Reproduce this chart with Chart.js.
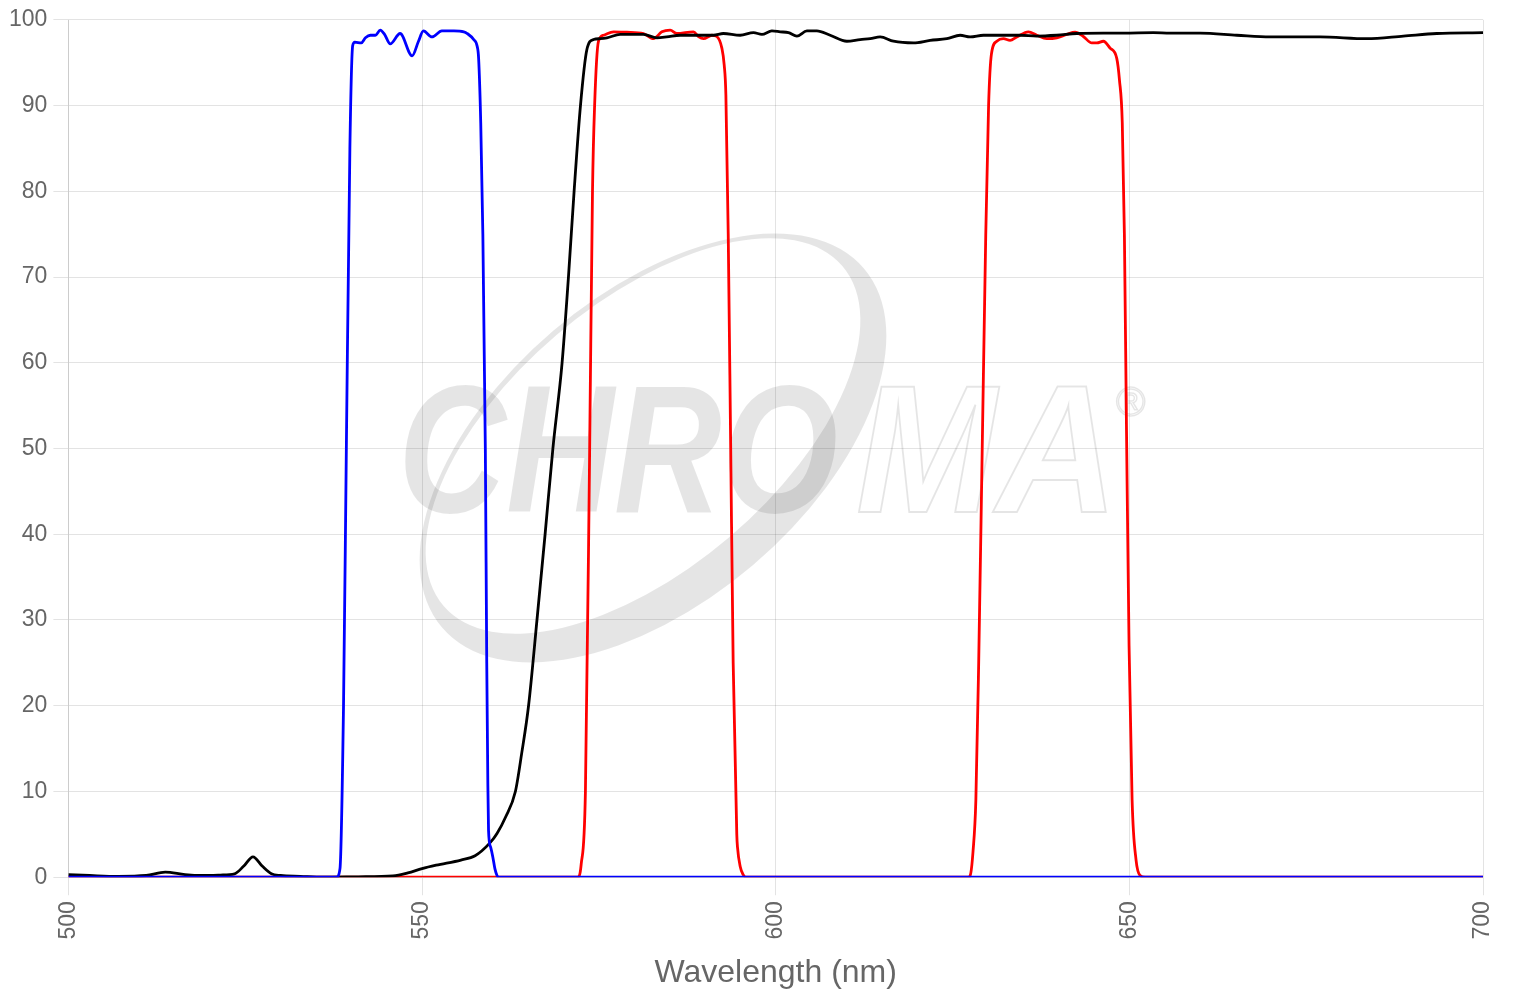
<!DOCTYPE html>
<html>
<head>
<meta charset="utf-8">
<title>Spectra</title>
<script src="https://cdn.jsdelivr.net/npm/chart.js@4.4.1/dist/chart.umd.min.js"></script>
<style>
    body { margin: 0; background: #fff; }
    #wrap { width: 1520px; height: 1000px; }
</style>
</head>
<body>
<div id="wrap"><canvas id="spectraChart" width="1520" height="1000"></canvas></div>
<script>
// x axis ticks / y axis ticks
const xTicks = [500, 550, 600, 650, 700];
const yTicks = [0, 10, 20, 30, 40, 50, 60, 70, 80, 90, 100];

// blue band (excitation)
const blueNm = [500, 537.9, 538.4, 538.9, 539.3, 539.8, 540.2, 540.5, 541.4, 542.0, 542.7, 543.4, 544.1, 544.7, 545.5, 546.9, 548.6, 549.5, 550.2, 551.4, 552.8, 554.5, 555.9, 556.4, 557.3, 557.8, 558.0, 558.3, 558.6, 558.95, 559.15, 559.3, 559.4, 559.7, 560.0, 560.3, 560.6, 560.8, 700];
const blueT  = [0, 0, 1, 20, 50, 85, 97, 97.4, 97.3, 97.9, 98.2, 98.2, 98.8, 98.3, 97.2, 98.4, 95.8, 97.5, 98.7, 98.0, 98.7, 98.7, 98.6, 98.4, 97.7, 96.9, 95.5, 88, 75, 50, 25, 11.3, 5.5, 3.5, 2.4, 1.0, 0.2, 0, 0];

// red dual band (emission)
const redNm = [500, 572.0, 572.5, 573.1, 573.7, 574.1, 574.4, 574.95, 575.66, 577.07, 578.96, 581.31, 582.72, 583.91, 585.08, 586.03, 588.38, 589.08, 589.79, 590.98, 591.68, 592.39, 592.72, 592.96, 593.29, 593.64, 593.99, 594.5, 594.6, 595.0, 595.4, 595.8,
    627.2, 627.5, 627.9, 628.3, 628.7, 629.2, 629.7, 630.1, 630.5, 631.26, 632.19, 633.14, 634.09, 635.73, 636.92, 638.33, 639.74, 641.16, 642.33, 643.5, 644.69, 645.4, 646.33, 647.28, 648.22, 648.6, 649.0, 649.3, 649.6, 649.96, 650.39, 650.95, 651.52, 652.23, 700];
const redT  = [0, 0, 1.5, 10, 50, 80, 90, 97.5, 98.2, 98.6, 98.55, 98.4, 97.8, 98.6, 98.8, 98.4, 98.6, 98.05, 97.8, 98.2, 98.05, 96.7, 94.75, 91.2, 75, 50, 25, 5, 3.5, 1.2, 0.3, 0,
    0, 0.2, 3, 9, 25, 50, 75, 90, 96, 97.5, 97.8, 97.6, 98, 98.6, 98.2, 97.8, 97.9, 98.3, 98.55, 98.05, 97.3, 97.3, 97.5, 96.7, 95.5, 93, 88, 75, 52, 27, 9, 2, 0.2, 0, 0];

// black longpass (dichroic)
const blackNm = [500, 503, 507, 511, 513.7, 516.5, 519, 521.5, 523.5, 524.8, 526.1, 527.4, 528.7, 530, 532.8, 536, 541, 545.9, 548, 550, 552, 555.5, 557.5, 559.6, 560.6, 561.8, 563.2, 564.1, 565.06, 566.25, 567.4, 568.5, 569.8, 570.7, 571.5, 572.4, 573.3, 574.25,
    575.2, 576.14, 578.02, 579.9, 581.31, 583.2, 584.6, 586.5, 588.86, 591.2, 592.6, 594.98, 596.86, 598.05, 599.46, 600.64, 601.81, 603.0, 604.41, 605.82, 607.7, 610.06, 611.94, 613.36, 614.77, 616.65, 619.48, 621.84, 624.2, 626.08, 627.49, 629.37,
    632.2, 634.56, 636.91, 639.74, 642.57, 646.33, 649.15, 653.4, 655.76, 660.0, 665.19, 669.9, 676.96, 683.56, 688.74, 693.46, 700];
const blackT  = [0.3, 0.2, 0.1, 0.2, 0.6, 0.3, 0.2, 0.25, 0.4, 1.3, 2.37, 1.3, 0.4, 0.2, 0.1, 0, 0.05, 0.15, 0.5, 1.0, 1.4, 2.0, 2.5, 4.0, 5.1, 7.0, 10, 14.5, 20, 30, 40, 50, 60, 70, 80, 90, 96.5, 97.7,
    97.8, 97.9, 98.3, 98.3, 98.3, 97.9, 98.0, 98.2, 98.2, 98.2, 98.4, 98.2, 98.5, 98.3, 98.7, 98.6, 98.5, 98.1, 98.7, 98.7, 98.2, 97.5, 97.7, 97.8, 98.0, 97.5, 97.3, 97.6, 97.8, 98.2, 98.0, 98.2,
    98.2, 98.2, 98.1, 98.2, 98.4, 98.45, 98.45, 98.5, 98.45, 98.45, 98.2, 98.0, 98.0, 97.8, 98.1, 98.4, 98.5];

function toPoints(xs, ys){
    return xs.map((x, i) => ({ x: x, y: ys[i] }));
}

// faint CHROMA logo behind the curves
const watermark = {
    id: 'watermark',
    beforeDatasetsDraw(chart){
        const c = chart.ctx;
        c.save();
        c.fillStyle = 'rgba(0,0,0,0.1)';
        c.strokeStyle = 'rgba(0,0,0,0.1)';

        c.font = 'italic bold 182px "Liberation Sans", Arial, sans-serif';
        c.textBaseline = 'alphabetic';
        c.fillText('CHRO', 398, 512, 440);
        c.lineWidth = 2;
        c.strokeText('MA', 856, 512, 262);
        c.font = '40px "Liberation Sans", Arial, sans-serif';
        c.lineWidth = 1.5;
        c.strokeText('®', 1116, 416);

        const rot = -40.4 * Math.PI / 180;
        c.beginPath();
        c.ellipse(653, 448, 277, 154, rot, 0, Math.PI * 2);
        c.ellipse(643, 436, 262, 133, rot, 0, Math.PI * 2);
        c.fill('evenodd');
        c.restore();
    }
};

const ctx = document.getElementById('spectraChart');

new Chart(ctx, {
    type: 'line',
    data: {
        datasets: [
            {
                label: 'Excitation',
                data: toPoints(blueNm, blueT),
                borderColor: '#0000ff',
                borderWidth: 2.8
            },
            {
                label: 'Dichroic',
                data: toPoints(blackNm, blackT),
                borderColor: '#000000',
                borderWidth: 2.8
            },
            {
                label: 'Emission',
                data: toPoints(redNm, redT),
                borderColor: '#ff0000',
                borderWidth: 2.8
            }
        ]
    },
    options: {
        responsive: false,
        animation: false,
        parsing: false,
        layout: { padding: { left: 3, right: 37, top: 11, bottom: 8 } },
        elements: {
            point: { radius: 0 },
            line: { cubicInterpolationMode: 'monotone', fill: false }
        },
        plugins: {
            legend: { display: false },
            tooltip: { enabled: false }
        },
        scales: {
            x: {
                type: 'linear',
                min: xTicks[0],
                max: xTicks[xTicks.length - 1],
                afterBuildTicks(axis){
                    axis.ticks = xTicks.map(v => ({ value: v }));
                },
                ticks: {
                    color: '#666',
                    font: { family: 'Arial, "Liberation Sans", sans-serif', size: 23 },
                    minRotation: 90,
                    maxRotation: 90,
                    padding: 6
                },
                grid: { color: 'rgba(0,0,0,0.11)', tickLength: 18 },
                title: {
                    display: true,
                    text: 'Wavelength (nm)',
                    color: '#666',
                    font: { family: 'Arial, "Liberation Sans", sans-serif', size: 32 },
                    padding: { top: 8, bottom: 0 }
                }
            },
            y: {
                min: yTicks[0],
                max: yTicks[yTicks.length - 1],
                afterBuildTicks(axis){
                    axis.ticks = yTicks.map(v => ({ value: v }));
                },
                ticks: {
                    color: '#666',
                    font: { family: 'Arial, "Liberation Sans", sans-serif', size: 23 },
                    padding: 6
                },
                grid: { color: 'rgba(0,0,0,0.11)', tickLength: 15 }
            }
        }
    },
    plugins: [watermark]
});
</script>
</body>
</html>
